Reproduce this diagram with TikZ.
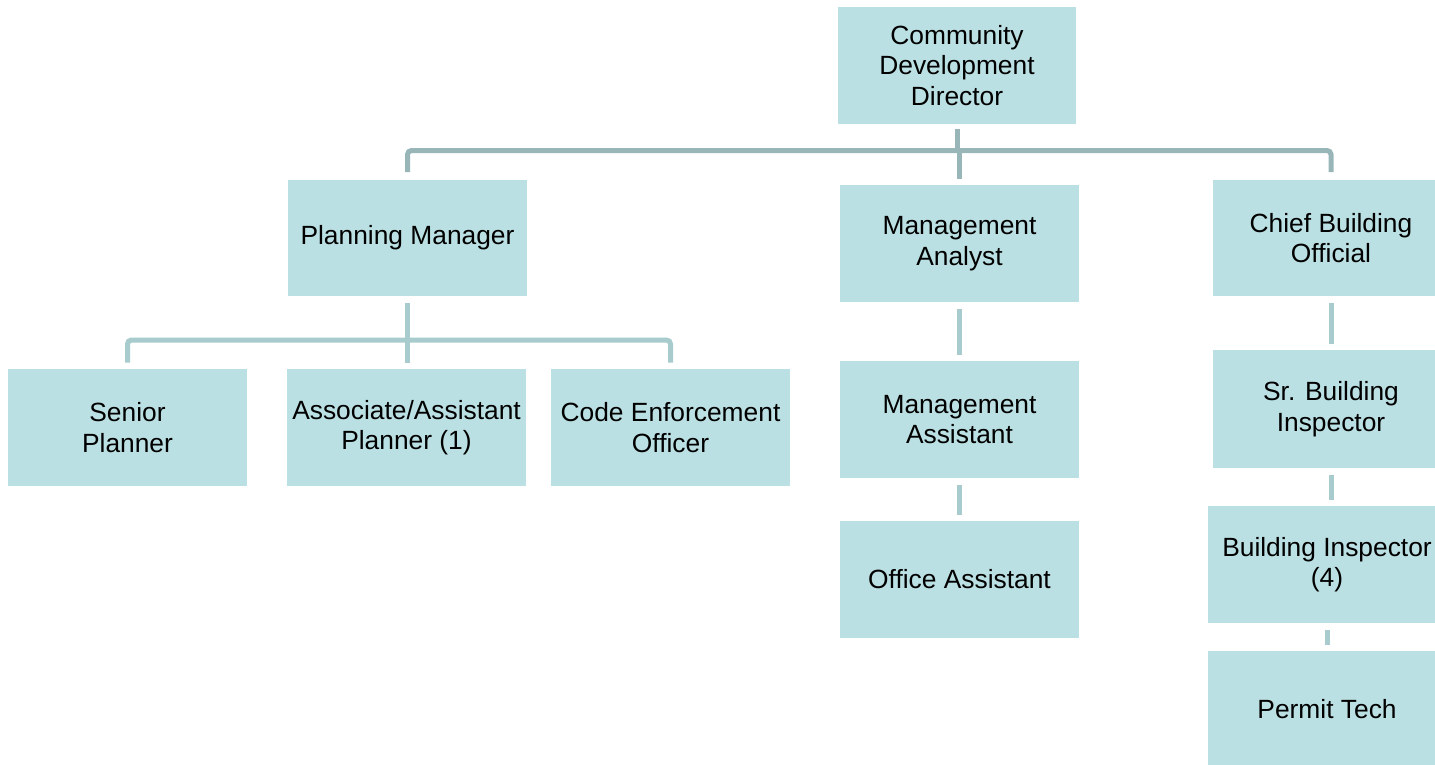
\documentclass[tikz,border=0pt]{standalone}
\usepackage{fontspec}
\setmainfont{Liberation Sans}
\usepackage{xcolor}
\usetikzlibrary{positioning}
\definecolor{boxfill}{HTML}{BBE0E3}
\definecolor{busline}{HTML}{98B6B8}
\definecolor{linkline}{HTML}{A8CBCE}

\begin{document}
\begin{tikzpicture}[x=0.02cm,y=-0.02cm]
\tikzstyle{post}=[fill=boxfill, minimum width=4.78cm, minimum height=2.34cm, inner sep=0pt, align=center, font=\fontsize{15}{17.4}\selectfont]
\tikzstyle{link}=[draw=linkline, line width=0.1cm]
\tikzstyle{bus}=[draw=busline, line width=0.1cm, rounded corners=0.08cm]
\clip (0,0) rectangle (1435,764);
% boxes
\node[post] (dir) at (957,65.5) {Community\\Development\\Director};
\node[post] (pm) at (407.5,238) {Planning Manager};
\node[post] (ma) at (959.5,243.5) {Management\\Analyst};
\node[post, minimum width=4.72cm] (cbo) at (1331,238) {Chief Building\\Official};
\node[post] (sp) at (127.5,427.5) {Senior\\Planner};
\node[post] (aap) at (406.5,427.5) {Associate/Assistant\\Planner (1)};
\node[post] (ceo) at (670.5,427.5) {Code Enforcement\\Officer};
\node[post] (mas) at (959.5,419.5) {Management\\Assistant};
\node[post] (oa) at (959.5,579.5) {Office Assistant};
\node[post, minimum width=4.72cm, minimum height=2.36cm] (sbi) at (1331,409) {Sr. Building\\Inspector};
\node[post] (bi) at (1327,564.5) {Building Inspector\\(4)};
\node[post] (pt) at (1327,709.5) {Permit Tech};
% top level
\coordinate (topbus) at (957,150.5);
\draw[bus, shorten <=0.1cm] (dir.south) -- (topbus);
\draw[bus, shorten <=0.14cm, shorten >=0.14cm] (pm.north) |- (topbus) -| (cbo.north);
\draw[bus, shorten >=0.12cm] (topbus -| ma.north) -- (ma.north);
% planning
\coordinate (pmbus) at (407.5,340);
\draw[link, shorten <=0.12cm] (pm.south) -- (pmbus);
\draw[link, rounded corners=0.08cm, shorten <=0.12cm, shorten >=0.12cm] (sp.north) |- (pmbus) -| (ceo.north);
\draw[link, shorten >=0.12cm] (pmbus) -- (pmbus |- aap.north);
% columns
\foreach \a/\b in {ma/mas, mas/oa, cbo/sbi, sbi/bi, bi/pt}
  \draw[link, shorten <=0.13cm, shorten >=0.12cm] (\a.south) -- (\a.south |- \b.north);
\end{tikzpicture}
\end{document}
